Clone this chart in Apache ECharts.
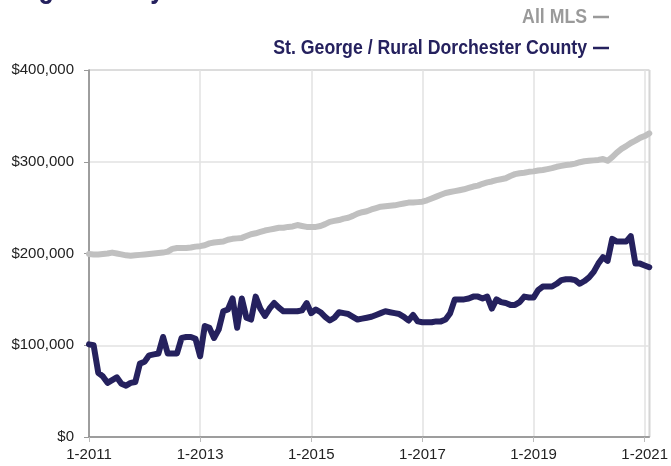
<!DOCTYPE html>
<html>
<head>
<meta charset="utf-8">
<script src="https://cdn.jsdelivr.net/npm/echarts@6/dist/echarts.min.js"></script>
<style>
html,body{margin:0;padding:0;background:#fff;}
#c{width:671px;height:466px;}
</style>
</head>
<body>
<div id="c"></div>
<script>
// Months from 1-2011 (index 0) through 2-2021 (index 121)
const startYear = 2011;
const yTicks = [0, 100000, 200000, 300000, 400000];
const seriesNames = ["All MLS", "St. George / Rural Dorchester County"];

// All MLS median price, thousands of dollars, monthly
const allMLS = [
199.5,199,199,199.5,200,201,200,199,198,197.5,198,198.5,
199,199.5,200,200.5,201,202,205,206,206,206,206.5,207.5,
208,209,211,212,212.5,213,215,216,216.5,217,219,221,
222,223.5,225,226,227,228,228,229,229.5,231,230,229,
229,229,230,232,234.5,235.5,236.5,238,239,241,243.5,245,
246,248,249.5,251,251.5,252,252.5,253.5,254.5,255.5,255.5,256,
256.5,258,260,262,264,266,267,268,269,270,271.5,273,
274,276,277.5,278.5,280,281,282,284.5,286.5,287.5,288,289,
289.5,290.5,291,292,293,294.5,295.5,296.5,297,298,299.5,300.5,
301,301.5,302,303,301,305,310,314,317,320.5,323,326,
328,331
];

// St. George / Rural Dorchester County, thousands of dollars, monthly
const stGeorge = [
101,100,70,66,59,62,65,58,56,59,60,80,
82,89,90,91,109,91,91,91,108,109,109,107,
88,121,119,108,117,137,139,151,119,151,130,128,
153,140,132,140,146,141,137,137,137,137,138,146,
135,139,136,131,127,130,136,135,134,131,128,129,
130,131,133,135,137,136,135,134,131,127,133,126,
125,125,125,126,126,128,135,150,150,150,151,153,
153,151,153,140,150,147,146,144,144,147,153,152,
152,160,164,164,164,167,171,172,172,171,167,170,
174,180,189,196,192,216,213,213,213,219,189,189,
187,185
];

const toPairs = arr => arr.map((v, i) => [i, v * 1000]);

const chart = echarts.init(document.getElementById('c'), null, {renderer: 'canvas'});
const font = "'Liberation Sans', Arial, sans-serif";
chart.setOption({
  animation: false,
  backgroundColor: '#fff',
  graphic: [
    {type: 'group', x: -1, y: 0, scaleX: 0.82, children: [
      {type: 'text', x: 0, y: -27, style: {text: 'Single-Family Detached', font: "bold 31px 'Liberation Sans', Arial, sans-serif", fill: '#25215e'}}
    ]},
    {type: 'group', x: 587, y: 0, scaleX: 0.885, children: [
      {type: 'text', x: 0, y: 7, style: {text: seriesNames[0], textAlign: 'right', font: "bold 20px 'Liberation Sans', Arial, sans-serif", fill: '#9a9a9a'}},
      {type: 'text', x: 0, y: 38, style: {text: seriesNames[1], textAlign: 'right', font: "bold 20px 'Liberation Sans', Arial, sans-serif", fill: '#25215e'}}
    ]},
    {type: 'line', shape: {x1: 593, y1: 17, x2: 609, y2: 17}, style: {stroke: '#9a9a9a', lineWidth: 2.5}},
    {type: 'line', shape: {x1: 593, y1: 48, x2: 609, y2: 48}, style: {stroke: '#25215e', lineWidth: 2.5}}
  ],
  grid: {
    left: 89, right: 21, top: 70, bottom: 29,
    show: true, borderColor: '#9a9a9a', borderWidth: 1
  },
  xAxis: {
    type: 'value',
    min: 0, max: 121, interval: 24,
    axisLine: {show: true, lineStyle: {color: '#888', width: 1.5}},
    axisTick: {show: true, length: 5, lineStyle: {color: '#bbb'}},
    splitLine: {show: true, lineStyle: {color: '#e2e2e2', width: 1.5}},
    axisLabel: {
      color: '#222', fontSize: 15, fontFamily: font, margin: 10,
      formatter: v => '1-' + (startYear + v / 12),
      showMaxLabel: false
    }
  },
  yAxis: {
    type: 'value',
    min: yTicks[0], max: yTicks[yTicks.length - 1], interval: 100000,
    axisLine: {show: true, lineStyle: {color: '#888', width: 1.5}},
    axisTick: {show: true, length: 5, lineStyle: {color: '#999'}},
    splitLine: {show: true, lineStyle: {color: '#e2e2e2', width: 1.5}},
    axisLabel: {
      color: '#222', fontSize: 15, fontFamily: font, margin: 15,
      formatter: v => '$' + v.toLocaleString('en-US')
    }
  },
  series: [
    {
      name: seriesNames[0], type: 'line', data: toPairs(allMLS),
      showSymbol: false, symbol: 'none',
      lineStyle: {color: '#c0c0c0', width: 6, cap: 'round', join: 'round'}
    },
    {
      name: seriesNames[1], type: 'line', data: toPairs(stGeorge),
      showSymbol: false, symbol: 'none',
      lineStyle: {color: '#25215e', width: 6, cap: 'round', join: 'round'}
    }
  ]
});
</script>
</body>
</html>
